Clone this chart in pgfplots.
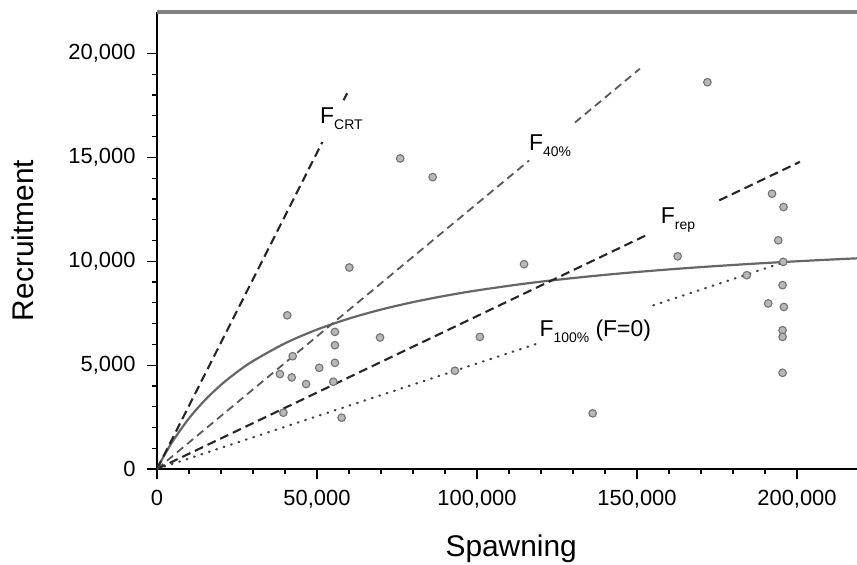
\documentclass[border=0pt]{standalone}
\usepackage{fontspec}
\setmainfont{Liberation Sans}
\usepackage{pgfplots}
\pgfplotsset{compat=1.18}
\usepackage{pgfplotstable}

% Observed spawning stock and recruitment
\pgfplotstableread{
S R
76000 14950
86150 14050
172000 18620
192200 13250
195800 12610
194150 11010
162700 10240
195700 9970
184300 9330
195500 8850
191000 7970
195900 7800
195500 6680
195500 6360
195500 4630
114700 9860
100900 6360
93100 4730
136150 2680
60100 9700
40700 7400
55600 6600
69700 6330
55600 5960
42400 5430
55600 5110
50700 4870
38400 4570
42100 4410
46600 4090
55100 4200
39500 2710
57700 2470
}\stockdata

\newcommand\lbl{\fontsize{23}{25}\selectfont}
\newcommand\sub[1]{\raisebox{-0.5ex}{\fontsize{14}{14}\selectfont #1}}

\begin{document}
\begin{tikzpicture}
\begin{axis}[
  name=ax, at={(0,0)}, anchor=south west,
  scale only axis, width=700bp, height=457bp,
  xmin=0, xmax=218750, ymin=0, ymax=22000,
  axis lines=left,
  axis line style={-, line width=1.6bp, black},
  tick align=outside,
  xtick={0,50000,...,200000},
  ytick={0,5000,...,20000},
  minor x tick num=4, minor y tick num=4,
  major tick length=10bp, minor tick length=5bp,
  tick style={black, line width=1.2bp},
  scaled ticks=false,
  /pgf/number format/fixed,
  /pgf/number format/1000 sep={,},
  /pgf/number format/assume math mode=true,
  tick label style={font=\fontsize{22}{24}\selectfont},
  xticklabel style={yshift=-8bp},
  yticklabel style={xshift=-8bp},
  xlabel={Spawning},
  ylabel={Recruitment},
  label style={font=\fontsize{30}{32}\selectfont},
  xlabel style={at={(axis description cs:0.506,-0.1904)}, anchor=base, inner sep=0pt},
  ylabel style={at={(axis description cs:-0.2071,0.5)}, anchor=north, inner sep=0pt},
]
% Beverton-Holt stock-recruitment curve
\addplot[black!60, line width=2.2bp, smooth] coordinates {
  (0,0) (2000,583) (5000,1358) (10000,2439) (15000,3319) (20000,4051)
  (25000,4668) (30000,5196) (40000,6051) (50000,6713) (60000,7242)
  (70000,7674) (80000,8034) (90000,8337) (100000,8597) (115000,8924)
  (130000,9192) (145000,9417) (160000,9608) (175000,9772) (190000,9915)
  (205000,10040) (220000,10151)
};
% Replacement lines through the origin
\addplot[black!85, line width=2.1bp, dash pattern=on 9bp off 5bp] coordinates {(0,0) (51700,15743)};
\addplot[black!85, line width=2.1bp, dash pattern=on 9bp off 5bp] coordinates {(58300,17752) (59400,18087)};
\addplot[black!65, line width=1.8bp, dash pattern=on 8bp off 5bp] coordinates {(0,0) (116300,14852)};
\addplot[black!65, line width=1.8bp, dash pattern=on 8bp off 5bp] coordinates {(130600,16678) (150900,19270)};
\addplot[black!85, line width=2.1bp, dash pattern=on 9bp off 5bp] coordinates {(0,0) (153800,11320)};
\addplot[black!85, line width=2.1bp, dash pattern=on 9bp off 5bp] coordinates {(175700,12932) (200900,14786)};
\addplot[black!75, line width=2.2bp, line cap=round, dash pattern=on 0.8bp off 7bp] coordinates {(0,0) (118400,6015)};
\addplot[black!75, line width=2.2bp, line cap=round, dash pattern=on 0.8bp off 7bp] coordinates {(155100,7879) (195700,9942)};
% Observations
\addplot[only marks, mark=*, mark size=3.8bp,
  mark options={fill=black!28, draw=black!55, line width=1.1bp}]
  table[x=S, y=R] {\stockdata};
% Line labels
\node[anchor=base west, inner sep=0pt] at (axis cs:50940,16636) {\lbl F\sub{CRT}};
\node[anchor=base west, inner sep=0pt] at (axis cs:116250,15338) {\lbl F\sub{40\%}};
\node[anchor=base west, inner sep=0pt] at (axis cs:157400,11842) {\lbl F\sub{rep}};
\node[anchor=base west, inner sep=0pt] at (axis cs:119470,6395) {\lbl F\sub{100\%} (F=0)};
\end{axis}
\draw[black!50, line width=4bp] (ax.north west) -- (ax.north east);
\pgfresetboundingbox
\path[use as bounding box] (-157bp,-96bp) rectangle (700bp,469bp);
\end{tikzpicture}
\end{document}
